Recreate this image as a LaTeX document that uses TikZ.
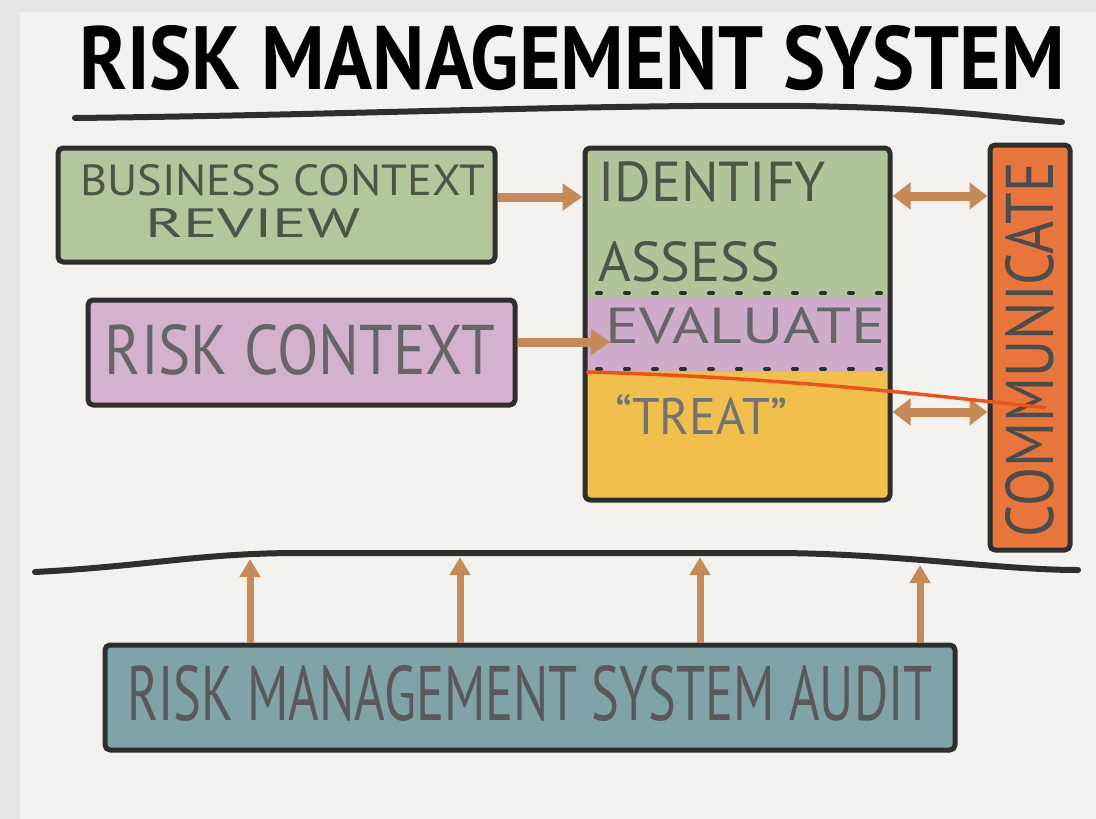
\documentclass[tikz,border=0pt]{standalone}
\usepackage{fontspec}
\usepackage{graphicx}
\setmainfont{PT Sans}
\usetikzlibrary{arrows.meta}
\definecolor{pagebg}{HTML}{F4F2EE}
\definecolor{edgebg}{HTML}{E6E6E6}
\definecolor{inkc}{HTML}{2E2E2E}
\definecolor{bcrgreen}{HTML}{B4C69B}
\definecolor{idgreen}{HTML}{B2C59A}
\definecolor{rcpurple}{HTML}{D4B1CD}
\definecolor{evpurple}{HTML}{CFACCB}
\definecolor{treatyel}{HTML}{F1BF4E}
\definecolor{commorange}{HTML}{E8763C}
\definecolor{auditteal}{HTML}{7FA3A6}
\definecolor{arrbrown}{HTML}{C68A58}
\definecolor{redline}{HTML}{E8541C}
\definecolor{softtext}{HTML}{4E5448}
\tikzset{
  box/.style={draw=inkc, line width=5pt, rounded corners=5pt, inner sep=0pt},
  boxtext/.style={inner sep=0pt, text=softtext},
  titletext/.style={inner sep=0pt, text=black},
  fatarrow/.style={draw=arrbrown, line width=9pt, -{Triangle[length=20pt,width=26pt]}},
  dblarrow/.style={draw=arrbrown, line width=9pt, {Triangle[length=18pt,width=26pt]}-{Triangle[length=18pt,width=26pt]}},
  uparrow/.style={draw=arrbrown, line width=7pt, -{Triangle[length=18pt,width=20pt]}},
  rule/.style={draw=inkc, line width=6pt, line cap=round},
  dotrule/.style={draw=inkc, line width=4pt, dash pattern=on 4pt off 24pt, line cap=round},
}
\begin{document}
\begin{tikzpicture}[x=1pt,y=-1pt,line join=round]
\useasboundingbox (0,0) rectangle (1096,819);
\fill[edgebg] (0,0) rectangle (1096,819);
\fill[pagebg] (20,12) rectangle (1096,819);

% title
\node[titletext] (title) at (572,58) {\resizebox{985pt}{64pt}{\bfseries RISK MANAGEMENT SYSTEM}};
\draw[rule] (75,118) .. controls (350,115) and (600,104) .. (800,106) .. controls (950,108) and (1000,118) .. (1062,122);

% business context review
\node[box, fill=bcrgreen, minimum width=437, minimum height=114] (bcr) at (276.5,205) {};
\node[boxtext, anchor=west] (bcrt1) at (80,180) {\resizebox{405pt}{31pt}{BUSINESS CONTEXT}};
\node[boxtext, anchor=west] (bcrt2) at (145,223) {\resizebox{215pt}{29pt}{REVIEW}};

% risk context
\node[box, fill=rcpurple, minimum width=427, minimum height=105] (rc) at (301.5,352.5) {};
\node[boxtext, text=black!60] (rct) at (300,350) {\resizebox{390pt}{50pt}{RISK CONTEXT}};

% core process box
\fill[idgreen] (585,148) rectangle (890,297);
\fill[evpurple] (585,297) rectangle (890,372);
\fill[treatyel] (585,372) rectangle (890,500);
\node[box, minimum width=305, minimum height=352] (core) at (737.5,324) {};
\draw[dotrule] (597,293) -- (885,293);
\draw[dotrule] (597,369) -- (885,369);
\node[boxtext, anchor=west] (ident) at (598,182) {\resizebox{228pt}{40pt}{IDENTIFY}};
\node[boxtext, anchor=west] (assess) at (598,262) {\resizebox{182pt}{40pt}{ASSESS}};
\node[boxtext, anchor=west, text=black!60] (evalt) at (605,326) {\resizebox{280pt}{36pt}{EVALUATE}};
\node[boxtext, anchor=west, text=black!55] (treat) at (615,414) {\resizebox{172pt}{40pt}{“TREAT”}};

% communicate
\node[box, fill=commorange, minimum width=80, minimum height=405] (comm) at (1030,347.5) {};
\node[boxtext, text=black!70, rotate=90] (commt) at (1030,350) {\resizebox{375pt}{48pt}{COMMUNICATE}};

% connector levels
\coordinate (ya) at (0,197);
\coordinate (yb) at (0,342);
\coordinate (yc) at (0,196);
\coordinate (yd) at (0,412);

% connectors
\draw[fatarrow] (bcr.east |- ya) -- (core.west |- ya);
\draw[fatarrow] (rc.east |- yb) -- ([xshift=28pt]core.west |- yb);
\draw[dblarrow] (core.east |- yc) -- (comm.west |- yc);
\draw[dblarrow] (core.east |- yd) -- (comm.west |- yd);
\draw[draw=redline, line width=3.5pt, line cap=round] ([xshift=5pt,yshift=-48pt]core.west) .. controls (800,378) and (950,398) .. ([xshift=15pt,yshift=-60pt]comm.center);

% lower rule
\draw[rule] (35,572) .. controls (150,566) and (200,553) .. (300,553) -- (780,553) .. controls (900,554) and (1000,570) .. (1078,570);
\coordinate (l1) at (250,559);
\coordinate (l2) at (460,557);
\coordinate (l3) at (700,557);
\coordinate (l4) at (920,565);

% audit
\node[box, fill=auditteal, minimum width=850, minimum height=105] (audit) at (530,697.5) {};
\node[boxtext, text=black!65] (auditt) at (530,693) {\resizebox{805pt}{55pt}{RISK MANAGEMENT SYSTEM AUDIT}};
\draw[uparrow] (audit.north -| l1) -- (l1);
\draw[uparrow] (audit.north -| l2) -- (l2);
\draw[uparrow] (audit.north -| l3) -- (l3);
\draw[uparrow] (audit.north -| l4) -- (l4);
\end{tikzpicture}
\end{document}
